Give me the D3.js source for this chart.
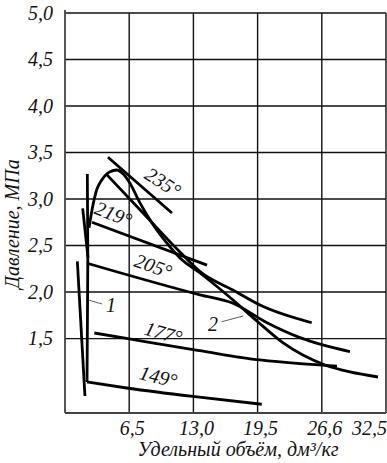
<!DOCTYPE html>
<html>
<head>
<meta charset="utf-8">
<script src="https://cdn.jsdelivr.net/npm/d3@7"></script>
<style>
  body { margin: 0; background: #fff; }
  text { font-family: "Liberation Serif", "Times New Roman", serif; font-style: italic; fill: #111; }
</style>
</head>
<body>
<svg id="chart" width="387" height="463"></svg>
<script>
// axes
const xTicks = [6.5, 13, 19.5, 26, 32.5];
const xTickLabels = ["6,5", "13,0", "19,5", "26,6", "32,5"];
const yTicks = [1.5, 2.0, 2.5, 3.0, 3.5, 4.0, 4.5, 5.0];
const yTickLabels = ["1,5", "2,0", "2,5", "3,0", "3,5", "4,0", "4,5", "5,0"];
const xTitle = "Удельный объём, дм³/кг";
const yTitle = "Давление, МПа";

// curves: [specific volume, pressure]
const iso235 = [[4.35, 3.45], [10.83, 2.85]];
const iso219 = [[2.73, 2.75], [14.38, 2.29]];
const iso205 = [[2.23, 2.31], [13.67, 1.97], [17.01, 1.88], [20.45, 1.67], [23.79, 1.51], [28.85, 1.36]];
const iso177 = [[2.97, 1.56], [6.38, 1.50], [9.62, 1.44], [13.67, 1.37], [19.74, 1.27], [23.79, 1.23], [27.54, 1.205]];
const iso149 = [[2.23, 1.033], [6.41, 0.966], [13.16, 0.875], [19.92, 0.794]];
const upperBranch = [[4.25, 3.26], [7.9, 2.85], [11.64, 2.43], [13.67, 2.22], [17.04, 2.02], [19.74, 1.86], [24.98, 1.67]];
const curve2 = [[2.43, 2.69], [2.73, 2.88], [3.21, 3.10], [3.72, 3.205], [4.56, 3.294], [5.23, 3.312], [5.90, 3.269],
  [6.58, 3.169], [7.59, 2.958], [8.94, 2.721], [10.30, 2.528], [11.64, 2.366], [13.67, 2.205], [17.01, 1.915],
  [19.54, 1.678], [22.09, 1.453], [26.33, 1.216], [28.85, 1.141], [31.69, 1.087]];
const curve1 = [[1.25, 2.33], [2.02, 0.883]];
const liquidA = [[2.26, 3.27], [2.31, 2.37], [2.23, 1.033]];
const liquidB = [[1.79, 2.90], [2.33, 2.37]];

const isoLabels = [
  { text: "235°", v: 9.92, p: 3.18, angle: 33 },
  { text: "219°", v: 4.89, p: 2.84, angle: 22 },
  { text: "205°", v: 8.94, p: 2.28, angle: 20 },
  { text: "177°", v: 9.95, p: 1.56, angle: 16 },
  { text: "149°", v: 9.45, p: 1.09, angle: 14 },
];
const curveLabels = [
  { text: "1", v: 4.66, p: 1.86, from: [2.36, 1.915], to: [3.75, 1.872] },
  { text: "2", v: 14.98, p: 1.65, from: [15.87, 1.681], to: [18.05, 1.743] },
];

const svg = d3.select("#chart");
const margin = { left: 65, right: 1, top: 13, bottom: 50 };
const width = 387, height = 463;
const fontSize = "20px";

const x = d3.scaleLinear().domain([0, 32.5]).range([margin.left, width - margin.right]);
const y = d3.scaleLinear().domain([0.7, 5.0]).range([height - margin.bottom, margin.top]);

const grid = svg.append("g").attr("stroke", "#111").attr("stroke-width", 1.4);

grid.selectAll(".vgrid")
  .data(xTicks)
  .enter()
  .append("line")
  .attr("x1", d => x(d)).attr("x2", d => x(d))
  .attr("y1", y(5.0)).attr("y2", y(0.7));

grid.selectAll(".hgrid")
  .data(yTicks)
  .enter()
  .append("line")
  .attr("x1", x(0)).attr("x2", x(32.5))
  .attr("y1", d => y(d)).attr("y2", d => y(d));

// frame
grid.append("line")
  .attr("x1", x(0)).attr("x2", x(0))
  .attr("y1", y(5.0) - 3).attr("y2", y(0.7))
  .attr("stroke", "#444").attr("stroke-width", 1.8);
grid.append("line")
  .attr("x1", x(0)).attr("x2", x(32.5))
  .attr("y1", y(0.7)).attr("y2", y(0.7))
  .attr("stroke", "#444").attr("stroke-width", 1.8);

svg.append("g")
  .selectAll("text")
  .data(yTicks)
  .enter()
  .append("text")
  .attr("x", margin.left - 12)
  .attr("y", d => y(d))
  .attr("dy", "0.34em")
  .attr("text-anchor", "end")
  .style("font-size", fontSize)
  .text((d, i) => yTickLabels[i]);

svg.append("g")
  .selectAll("text")
  .data(xTicks)
  .enter()
  .append("text")
  .attr("x", (d, i) => i === xTicks.length - 1 ? x(d) + 1 : x(d) + 3)
  .attr("y", y(0.7) + 22)
  .attr("text-anchor", (d, i) => i === xTicks.length - 1 ? "end" : "middle")
  .style("font-size", fontSize)
  .text((d, i) => xTickLabels[i]);

svg.append("text")
  .attr("x", 238)
  .attr("y", 456)
  .attr("text-anchor", "middle")
  .style("font-size", fontSize)
  .text(xTitle);

svg.append("text")
  .attr("transform", "translate(19,224) rotate(-90)")
  .attr("text-anchor", "middle")
  .style("font-size", fontSize)
  .text(yTitle);

const smooth = d3.line().x(d => x(d[0])).y(d => y(d[1])).curve(d3.curveMonotoneX);
const straight = d3.line().x(d => x(d[0])).y(d => y(d[1]));

const curves = svg.append("g")
  .attr("fill", "none")
  .attr("stroke", "#000")
  .attr("stroke-width", 2.8);

[iso205, iso177, iso149, upperBranch, curve2].forEach(c => {
  curves.append("path").attr("d", smooth(c));
});
[iso235, iso219, curve1, liquidA, liquidB].forEach(c => {
  curves.append("path").attr("d", straight(c));
});

svg.append("g")
  .selectAll("text")
  .data(isoLabels)
  .enter()
  .append("text")
  .attr("transform", d => `translate(${x(d.v)},${y(d.p)}) rotate(${d.angle})`)
  .attr("text-anchor", "middle")
  .attr("dy", "0.34em")
  .style("font-size", fontSize)
  .text(d => d.text);

const cl = svg.append("g").selectAll("g").data(curveLabels).enter().append("g");
cl.append("line")
  .attr("x1", d => x(d.from[0])).attr("y1", d => y(d.from[1]))
  .attr("x2", d => x(d.to[0])).attr("y2", d => y(d.to[1]))
  .attr("stroke", "#333").attr("stroke-width", 0.8);
cl.append("text")
  .attr("x", d => x(d.v))
  .attr("y", d => y(d.p))
  .attr("dy", "0.34em")
  .attr("text-anchor", "middle")
  .style("font-size", fontSize)
  .text(d => d.text);
</script>
</body>
</html>
